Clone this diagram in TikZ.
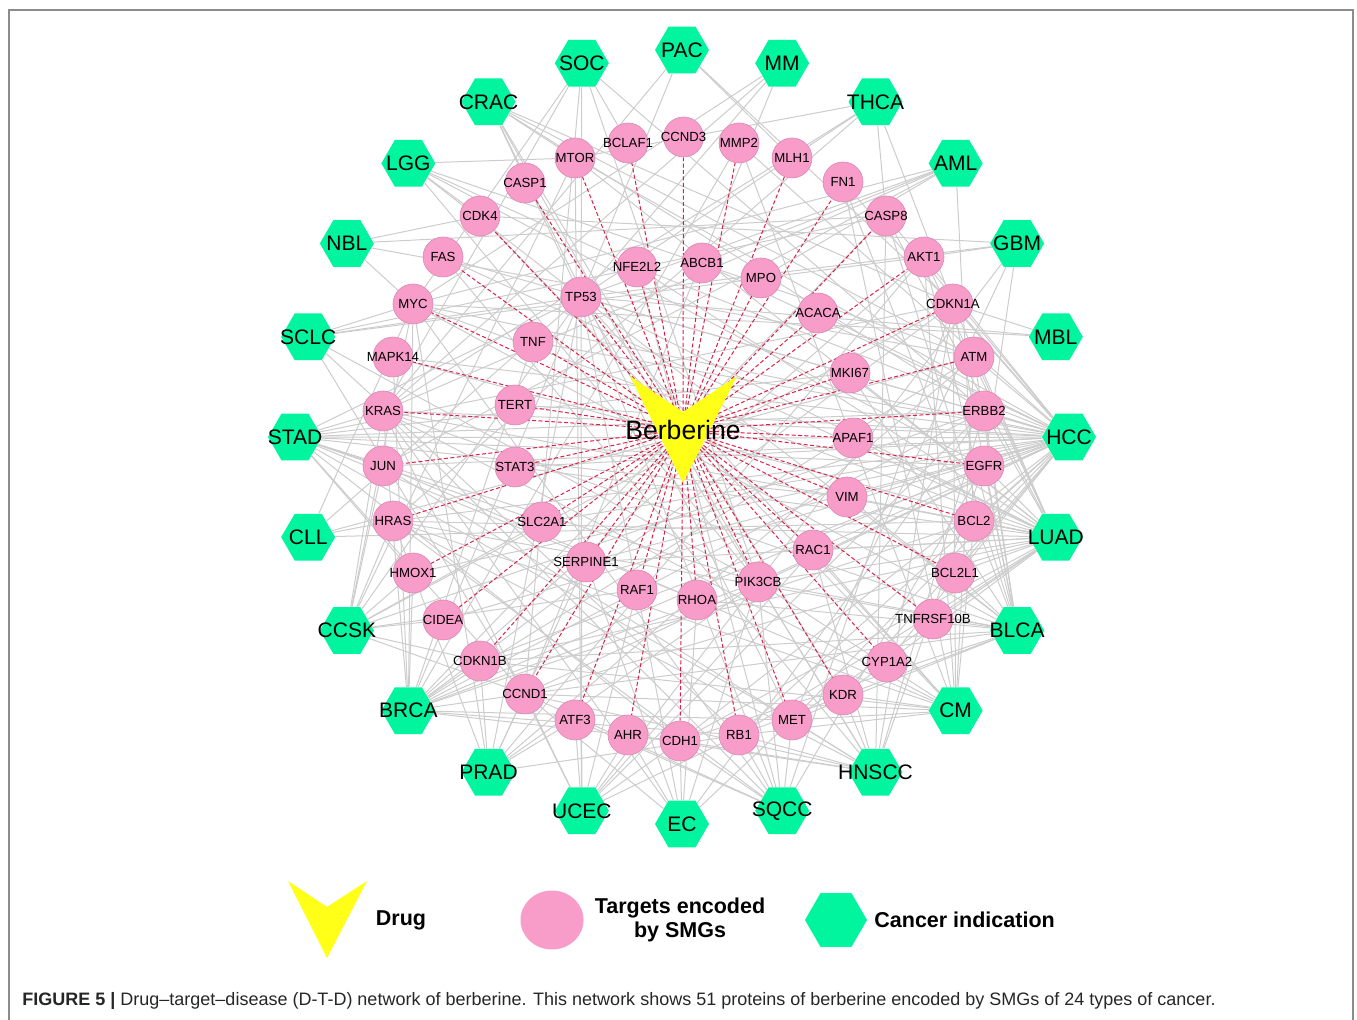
\documentclass[tikz,border=0pt]{standalone}
\usepackage{fontspec}
\setmainfont{Liberation Sans}
\usepackage{tikz}
\usetikzlibrary{shapes.geometric,backgrounds,positioning}
\pgfdeclarelayer{dashes}
\pgfsetlayers{background,dashes,main}
\definecolor{drugyellow}{RGB}{255,255,24}
\definecolor{targetpink}{RGB}{248,156,202}
\definecolor{cancergreen}{RGB}{0,245,158}
\definecolor{edgegray}{RGB}{204,204,204}
\definecolor{dashred}{RGB}{222,32,72}
\definecolor{framegray}{RGB}{140,140,140}
\tikzset{
  targetnode/.style={circle,fill=targetpink,draw=targetpink!88!black,line width=0.3pt,minimum size=20pt,inner sep=0pt},
  cancernode/.style={regular polygon,regular polygon sides=6,fill=cancergreen,minimum size=27pt,inner sep=0pt},
  tlabel/.style={font=\fontsize{6.6}{7}\selectfont,inner sep=0pt},
  clabel/.style={font=\fontsize{10.5}{12}\selectfont,inner sep=0pt},
  druglabel/.style={font=\fontsize{13.3}{15}\selectfont,inner sep=0pt},
  grayedge/.style={draw=edgegray,line width=0.5pt},
  drugedge/.style={draw=dashred,line width=0.5pt,dash pattern=on 2pt off 1.2pt},
  legendtext/.style={font=\bfseries\fontsize{10.75}{13}\selectfont,align=center,inner sep=0pt}
}

\begin{document}
\begin{tikzpicture}[x=0.5pt,y=-0.5pt]
\useasboundingbox (0,0) rectangle (1357,1020);
\draw[framegray,line width=0.7pt] (9,1020) -- (9,10) -- (1353,10) -- (1353,1020);

\fill[drugyellow] (630,376) -- (683,412) -- (737,376) -- (683,483) -- cycle;
\node[druglabel] (berberine) at (683,430) {Berberine};

\foreach \n/\x/\y in {CCND3/683.5/137, MMP2/739/143, MLH1/792/158, FN1/843/182, CASP8/886/216,
    AKT1/924/257, CDKN1A/953/304, ATM/974/357, ERBB2/984/411, EGFR/984/466, BCL2/974/521,
    BCL2L1/955/573, TNFRSF10B/933/619, CYP1A2/887/662, KDR/843/695, MET/792/720, RB1/739/735,
    CDH1/680/741, AHR/628/735, ATF3/575/720, CCND1/525/694, CDKN1B/480/661, CIDEA/443/620,
    HMOX1/413/573, HRAS/393/521, JUN/383/466, KRAS/383/411, MAPK14/393/357, MYC/413/304,
    FAS/443/257, CDK4/480/216, CASP1/525/183, MTOR/575/158, BCLAF1/628/143,
    TP53/581/297, NFE2L2/637/267, ABCB1/702/263, MPO/761/278, ACACA/818/313, MKI67/850/373,
    APAF1/853/438, VIM/847/497, RAC1/813/550, PIK3CB/758/582, RHOA/697/600, RAF1/637/590,
    SERPINE1/586/562, SLC2A1/542/522, STAT3/515/467, TERT/515/405, TNF/533/342}
{
  \node[targetnode,label={[tlabel]center:\n}] (\n) at (\x,\y) {};
  \begin{pgfonlayer}{dashes}
    \draw[drugedge] (berberine.center) -- (\n);
  \end{pgfonlayer}
}

\foreach \n [count=\i from 0] in {PAC,MM,THCA,AML,GBM,MBL,HCC,LUAD,BLCA,CM,HNSCC,SQCC,
    EC,UCEC,PRAD,BRCA,CCSK,CLL,STAD,SCLC,NBL,LGG,CRAC,SOC}
  \node[cancernode,label={[clabel]center:\n}] (\n) at ({682+387*sin(15*\i)},{437-387*cos(15*\i)}) {};

\begin{scope}[on background layer]
\foreach \c/\ts in {
    PAC/{TP53,MLH1,KRAS,CDKN1A},
    MM/{KRAS,TP53,CCND1,MYC},
    SOC/{TP53,PIK3CB,CCND1,MYC,ERBB2,KRAS,BCLAF1},
    THCA/{HRAS,KRAS,TP53,CDKN1A,MTOR,CASP8},
    CRAC/{MTOR,TP53,PIK3CB,ATM,KDR,MET,CDKN1A,ERBB2},
    AML/{TP53,KRAS,MYC,JUN,ABCB1,MPO,BCL2},
    LGG/{TP53,ATM,EGFR,CDK4,PIK3CB,NFE2L2,MTOR},
    GBM/{EGFR,TP53,CDK4,PIK3CB,AKT1,MET},
    NBL/{MYC,ATM,CASP8,CDK4},
    MBL/{TP53,MYC,CDKN1A},
    SCLC/{TP53,RB1,MYC,CCND1,AKT1,PIK3CB,CASP8},
    HCC/{TP53,AKT1,MTOR,CDKN1A,CCND1,MYC,NFE2L2,CASP8,EGFR,ERBB2,ATM,RB1,KRAS,HRAS,JUN,FAS,
         TERT,STAT3,MET,KDR,VIM,CDH1,BCL2,BCL2L1,APAF1,MAPK14,TNF,FN1,MMP2,CIDEA,CYP1A2,ACACA,SLC2A1,ABCB1,
         CDKN1B,PIK3CB,RAC1,HMOX1,SERPINE1},
    LUAD/{EGFR,KRAS,ERBB2,TP53,CDKN1A,CDKN1B,ATM,MET,PIK3CB,STAT3,BCL2,BCL2L1,MKI67,VIM,CDH1,RB1,
         HRAS,MAPK14,AKT1,MTOR,NFE2L2,TNFRSF10B,CASP8,KDR,SERPINE1,RAC1,MYC,CCND1,FAS,APAF1},
    BLCA/{TP53,RB1,ERBB2,EGFR,FN1,CDKN1A,CDKN1B,ATM,CCND1,HRAS,KRAS,CASP8,MKI67,TNFRSF10B,BCL2L1,
         CDH1,MET,RHOA,PIK3CB,VIM,AKT1,MYC},
    CM/{TP53,CDKN1A,CCND1,KRAS,HRAS,RAC1,PIK3CB,MET,KDR,MMP2,ATM,AKT1,BCL2,CDK4,RB1,JUN,FN1,CDKN1B},
    HNSCC/{TP53,EGFR,CCND1,CDKN1A,HRAS,PIK3CB,CASP8,RB1,MET,KDR,CDH1,AHR,FAS,JUN,RAC1,ERBB2},
    SQCC/{TP53,CDKN1A,NFE2L2,PIK3CB,RB1,EGFR,KRAS,CCND1,HRAS,MET,CDH1,ATF3,MYC},
    EC/{TP53,CDH1,ERBB2,PIK3CB,RHOA,CCND1,KRAS,AHR,MET,SERPINE1},
    UCEC/{TP53,PIK3CB,KRAS,CCND1,CDH1,ATF3,AHR,RAF1,MTOR,ERBB2,RB1,RAC1},
    PRAD/{TP53,PIK3CB,AKT1,MYC,CDKN1B,CCND1,ATF3,ATM,SERPINE1,HRAS,RB1},
    BRCA/{TP53,ERBB2,PIK3CB,CDH1,MAPK14,CCND1,CDKN1B,RB1,BCL2,MYC,AKT1,ATM,CASP8,KRAS,MMP2,TNF,EGFR,HMOX1,
          CDKN1A,MET},
    CCSK/{HRAS,KRAS,HMOX1,CIDEA,CDKN1B,MTOR,MYC,TP53,JUN,CCND1,RAF1,CDKN1A,ERBB2,SLC2A1},
    CLL/{TP53,ATM,HRAS,BCL2,MYC},
    STAD/{TP53,KRAS,ERBB2,CDH1,JUN,PIK3CB,RHOA,MET,CCND1,CDKN1A,APAF1,EGFR,HMOX1,SLC2A1,MKI67,VIM}}
  \foreach \t in \ts
    \draw[grayedge] (\c) -- (\t);
\end{scope}

\fill[drugyellow] (288,881) coordinate (drugkey) -- (327,907) -- (367,881) -- (327,958) -- cycle;
\node[legendtext] (drugtext) at (401,920) {Drug};
\node[ellipse,fill=targetpink,minimum width=31.5pt,minimum height=29.5pt,inner sep=0pt] (targetkey) at (552,920) {};
\node[legendtext] (targettext) at (680,920) {Targets encoded\\[-1pt]by SMGs};
\node[regular polygon,regular polygon sides=6,fill=cancergreen,minimum size=31pt,inner sep=0pt] (cancerkey) at (836,920) {};
\node[legendtext,anchor=west] (cancertext) at (874,920) {Cancer indication};

\node[anchor=west,font=\fontsize{9}{10}\selectfont,text=black!85,inner sep=0pt] (caption) at (22,1001)
  {\textbf{FIGURE 5 |} Drug–target–disease (D-T-D) network of berberine. This network shows 51 proteins of berberine encoded by SMGs of 24 types of cancer.};
\end{tikzpicture}
\end{document}
